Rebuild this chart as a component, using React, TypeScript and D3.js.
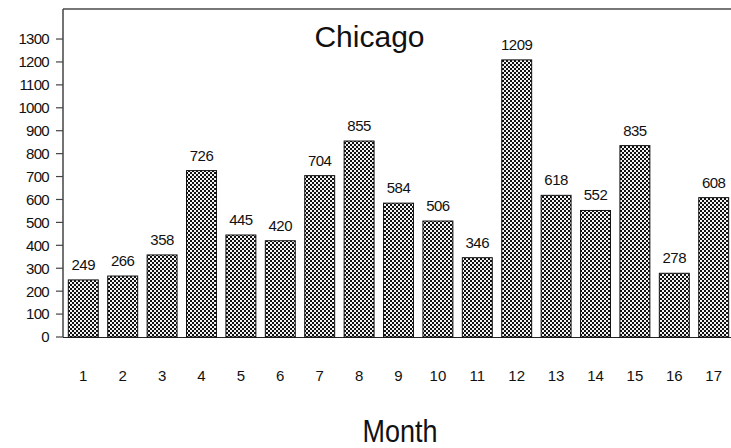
import React from "react";
import * as d3 from "d3";

const months: string[] = ["1","2","3","4","5","6","7","8","9","10","11","12","13","14","15","16","17"];
const counts: number[] = [249, 266, 358, 726, 445, 420, 704, 855, 584, 506, 346, 1209, 618, 552, 835, 278, 608];
const yTicks: number[] = [0,100,200,300,400,500,600,700,800,900,1000,1100,1200,1300];
const title = "Chicago";
const xTitle = "Month";

const W = 731, H = 448;
const left = 63, top = 9, bottom = 337, right = 731;
const FONT = "'Liberation Sans', Arial, Helvetica, sans-serif";

export default function App() {
  const x = d3.scaleBand<string>().domain(months).range([left, 734]).paddingInner(0.24).paddingOuter(0.135);
  const y = d3.scaleLinear().domain([0, 1431]).range([bottom, top]);
  return (
    <svg width={W} height={H} style={{ position: "absolute", left: 0, top: 0, background: "#fff" }} fontFamily={FONT}>
      <defs>
        <pattern id="hatch" patternUnits="userSpaceOnUse" width={4} height={4}>
          <rect x={0} y={0} width={4} height={4} fill="#111" />
          <rect x={0} y={0} width={2} height={2} fill="#f4f4f4" />
          <rect x={2} y={2} width={2} height={2} fill="#f4f4f4" />
        </pattern>
      </defs>
      <rect x={0} y={0} width={W} height={H} fill="#fff" />
      {/* frame */}
      <line x1={left} x2={right} y1={top} y2={top} stroke="#777" strokeWidth={2} />
      <line x1={left} x2={left} y1={top} y2={bottom} stroke="#444" strokeWidth={1.5} />
      <line x1={left} x2={right} y1={bottom + 0.5} y2={bottom + 0.5} stroke="#222" strokeWidth={1} />
      {/* y ticks */}
      {yTicks.map((t) => (
        <g key={t}>
          <line x1={56} x2={left} y1={y(t)} y2={y(t)} stroke="#444" strokeWidth={1.2} />
          <text x={49} y={y(t)} dy="0.36em" textAnchor="end" fontSize={15} letterSpacing={-0.7} fill="#111">{t}</text>
        </g>
      ))}
      {/* bars */}
      {months.map((m, i) => {
        const bx = x(m)!;
        const bw = x.bandwidth();
        const v = counts[i];
        return (
          <g key={m}>
            <rect x={bx} y={y(v)} width={bw} height={bottom - y(v)} fill="url(#hatch)" stroke="#111" strokeWidth={1} />
            <text x={bx + bw / 2} y={y(v) - 10} textAnchor="middle" fontSize={15} letterSpacing={-0.5} fill="#111">{v}</text>
            <text x={bx + bw / 2} y={381} textAnchor="middle" fontSize={15} fill="#111">{m}</text>
          </g>
        );
      })}
      <text x={369.5} y={47} textAnchor="middle" fontSize={30} fill="#111">{title}</text>
      <text x={400} y={442} textAnchor="middle" fontSize={31} fill="#111" textLength={75} lengthAdjust="spacingAndGlyphs">{xTitle}</text>
    </svg>
  );
}
